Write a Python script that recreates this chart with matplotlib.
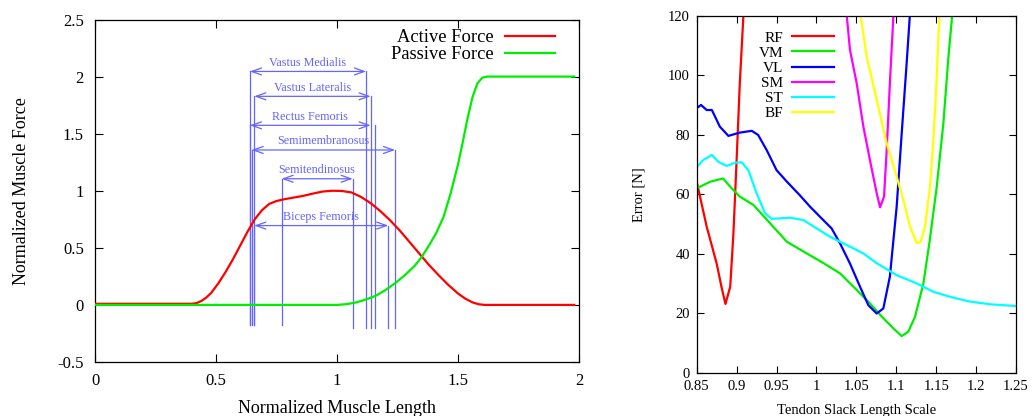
import matplotlib
matplotlib.use("Agg")
import matplotlib.pyplot as plt
from matplotlib.ticker import FormatStrFormatter, MultipleLocator

plt.rcParams['font.family'] = ['Liberation Serif', 'DejaVu Serif']
plt.rcParams['axes.unicode_minus'] = False

# ---------------- Left panel data ----------------
active_x = [0.0, 0.40, 0.42, 0.44, 0.46, 0.48, 0.51, 0.54, 0.57, 0.60, 0.63, 0.66, 0.69, 0.72,
            0.75, 0.78, 0.82, 0.86, 0.90, 0.94, 0.98, 1.02, 1.06, 1.10, 1.14, 1.18, 1.22,
            1.26, 1.30, 1.34, 1.38, 1.42, 1.46, 1.50, 1.53, 1.56, 1.585, 1.61, 1.98]
active_y = [0.01, 0.01, 0.016, 0.035, 0.065, 0.105, 0.19, 0.29, 0.40, 0.52, 0.64, 0.75, 0.83, 0.885,
            0.91, 0.925, 0.94, 0.955, 0.975, 0.993, 1.0, 0.998, 0.985, 0.945, 0.89, 0.82, 0.74,
            0.65, 0.55, 0.45, 0.35, 0.26, 0.175, 0.10, 0.055, 0.022, 0.006, 0.0, 0.0]

passive_x = [0.0, 1.0, 1.04, 1.08, 1.12, 1.16, 1.20, 1.24, 1.28, 1.32, 1.35, 1.38, 1.41,
             1.44, 1.47, 1.50, 1.52, 1.54, 1.56, 1.58, 1.60, 1.62, 1.98]
passive_y = [0.0, 0.0, 0.007, 0.022, 0.048, 0.08, 0.13, 0.19, 0.26, 0.34, 0.42, 0.52, 0.63,
             0.77, 0.98, 1.23, 1.43, 1.64, 1.82, 1.94, 1.99, 2.0, 2.0]

muscles = ['Vastus Medialis', 'Vastus Lateralis', 'Rectus Femoris',
           'Semimembranosus', 'Semitendinosus', 'Biceps Femoris']
span_lo = [0.640, 0.658, 0.640, 0.647, 0.771, 0.658]
span_hi = [1.120, 1.139, 1.139, 1.240, 1.065, 1.212]
line_hi = [1.120, 1.139, 1.157, 1.240, 1.065, 1.212]
span_level = [2.045, 1.827, 1.573, 1.357, 1.105, 0.695]

# ---------------- Right panel data ----------------
rf_x = [0.85, 0.8625, 0.875, 0.881, 0.886, 0.892, 0.896, 0.900, 0.904, 0.9085]
rf_y = [64.2, 49.1, 36.7, 28.9, 23.1, 28.9, 46.8, 71.5, 97.3, 120]

vm_x = [0.85, 0.867, 0.883, 0.892, 0.904, 0.921, 0.942, 0.963, 0.984, 1.009, 1.0295,
        1.0504, 1.067, 1.0838, 1.0964, 1.1068, 1.115, 1.1235, 1.134, 1.142, 1.1507,
        1.159, 1.165, 1.170]
vm_y = [62.0, 64.2, 65.3, 62.5, 59.2, 56.4, 50.2, 44.0, 40.7, 36.8, 33.4,
        27.8, 23.3, 18.3, 14.9, 12.3, 13.8, 18.8, 30.0, 44.6, 62.5,
        83.8, 105, 120]

vl_x = [0.85, 0.8554, 0.8625, 0.869, 0.879, 0.8897, 0.904, 0.919, 0.927, 0.9377, 0.950,
        0.963, 0.979, 0.992, 1.0045, 1.019, 1.0295, 1.042, 1.0546, 1.065, 1.0755,
        1.0838, 1.092, 1.1005, 1.1068, 1.113, 1.117]
vl_y = [88.9, 90.0, 88.3, 88.3, 82.7, 79.6, 80.7, 81.3, 79.9, 74.8, 68.1,
        64.2, 59.7, 55.8, 52.4, 48.5, 43.5, 36.7, 28.9, 22.7, 19.9,
        21.6, 32.3, 55.8, 80.4, 104, 120]

sm_x = [1.038, 1.042, 1.0504, 1.0588, 1.067, 1.0755, 1.0797, 1.0847, 1.088, 1.092, 1.0964]
sm_y = [120, 108.5, 97.3, 82.7, 71.5, 60.3, 55.6, 59.2, 74.8, 97.3, 120]

st_x = [0.85, 0.8584, 0.869, 0.877, 0.8876, 0.898, 0.9064, 0.9147, 0.925, 0.9356, 0.944,
        0.967, 0.9836, 1.0003, 1.017, 1.0379, 1.0588, 1.0755, 1.1005, 1.1256, 1.1465,
        1.1674, 1.1924, 1.2175, 1.25]
st_y = [69.2, 71.5, 73.2, 70.9, 69.5, 70.6, 70.7, 68.1, 60.3, 53.6, 51.7,
        52.1, 51.3, 48.5, 45.7, 42.9, 40.1, 36.8, 32.8, 30.0, 27.2,
        25.5, 23.9, 23.0, 22.4]

bf_x = [1.0554, 1.063, 1.0755, 1.088, 1.1005, 1.1089, 1.1172, 1.1256, 1.1306, 1.136,
        1.1423, 1.1465, 1.1507, 1.154]
bf_y = [120, 106.2, 91.7, 77.1, 65.9, 58.0, 49.1, 43.5, 44.0, 49.1,
        62.5, 78.2, 99.5, 120]

right_series = [('RF', rf_x, rf_y, '#ff0000'), ('VM', vm_x, vm_y, '#00ee00'),
                ('VL', vl_x, vl_y, '#0000ff'), ('SM', sm_x, sm_y, '#ff00ff'),
                ('ST', st_x, st_y, '#00ffff'), ('BF', bf_x, bf_y, '#ffff00')]

# ---------------- Figure ----------------
fig = plt.figure(figsize=(10.32, 4.16), dpi=100)
axL = fig.add_axes([95 / 1032, (416 - 362) / 416, 484 / 1032, 342.5 / 416])
axR = fig.add_axes([696.7 / 1032, (416 - 372.7) / 416, 319.3 / 1032, 357 / 416])

ann_color = '#6464ff'

axL.plot(active_x, active_y, color='#ff0000', lw=1.6, label='Active Force', zorder=3)
axL.plot(passive_x, passive_y, color='#00ee00', lw=1.6, label='Passive Force', zorder=3)

for name, lo, hi, lh, lev in zip(muscles, span_lo, span_hi, line_hi, span_level):
    axL.plot([lo, lo], [-0.18, lev], color=ann_color, lw=0.9, zorder=2)
    axL.plot([lh, lh], [-0.2, lev], color=ann_color, lw=0.9, zorder=2)
    axL.annotate('', xy=(hi, lev), xytext=(lo, lev),
                 arrowprops=dict(arrowstyle='<->,head_length=0.7,head_width=0.25',
                                 color=ann_color, lw=0.9, shrinkA=0, shrinkB=0,
                                 mutation_scale=10))
    axL.annotate(name, xy=((lo + hi) / 2, lev), xytext=(0, 4), textcoords='offset points',
                 ha='center', va='baseline', fontsize=8.7, color=ann_color)

axL.set_xlim(0, 2)
axL.set_ylim(-0.5, 2.5)
axL.xaxis.set_major_locator(MultipleLocator(0.5))
axL.yaxis.set_major_locator(MultipleLocator(0.5))
axL.xaxis.set_major_formatter(FormatStrFormatter('%g'))
axL.yaxis.set_major_formatter(FormatStrFormatter('%g'))
axL.tick_params(direction='in', top=True, right=True, length=6, width=0.8,
                labelsize=12, pad=8)
axL.set_xlabel('Normalized Muscle Length', fontsize=13, labelpad=8)
axL.set_ylabel('Normalized Muscle Force', fontsize=13, labelpad=20)
axL.legend(loc='upper right', bbox_to_anchor=(0.950, 0.972), frameon=False,
           markerfirst=False, fontsize=13.3, handlelength=2.7, handletextpad=0.63,
           labelspacing=0.0, borderpad=0, borderaxespad=0)

for name, xs, ys, c in right_series:
    axR.plot(xs, ys, color=c, lw=1.6, label=name)

axR.set_xlim(0.85, 1.25)
axR.set_ylim(0, 120)
axR.xaxis.set_major_locator(MultipleLocator(0.05))
axR.yaxis.set_major_locator(MultipleLocator(20))
axR.xaxis.set_major_formatter(FormatStrFormatter('%g'))
axR.yaxis.set_major_formatter(FormatStrFormatter('%g'))
axR.tick_params(direction='in', top=True, right=True, length=5, width=0.8,
                labelsize=10.5, pad=5)
axR.set_xlabel('Tendon Slack Length Scale', fontsize=10.5, labelpad=8)
axR.set_ylabel('Error [N]', fontsize=10.5, labelpad=16)
axR.legend(loc='upper right', bbox_to_anchor=(0.43, 0.957), frameon=False,
           markerfirst=False, fontsize=11, handlelength=2.72, handletextpad=0.61,
           labelspacing=0.09, borderpad=0, borderaxespad=0)

for ax in (axL, axR):
    for s in ax.spines.values():
        s.set_linewidth(0.9)

fig.savefig('out.png', dpi=100)
